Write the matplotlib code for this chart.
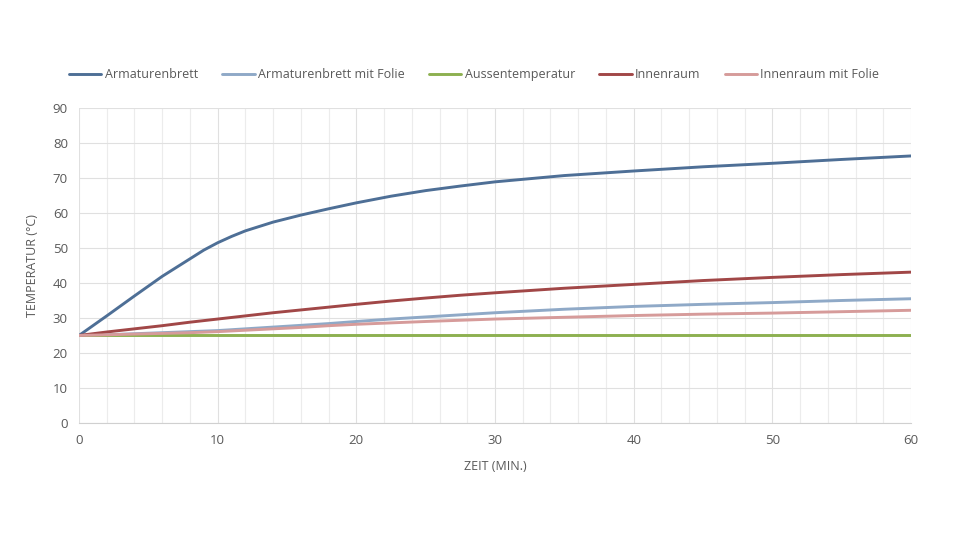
import matplotlib.pyplot as plt
from matplotlib.ticker import MultipleLocator

plt.rcParams['font.family'] = ['Open Sans', 'DejaVu Sans']

zeit = [0, 2, 4, 6, 8, 9, 10, 11, 12, 14, 16, 18, 20, 22.5, 25, 27.5, 30, 35, 40, 45, 50, 55, 60]
armaturenbrett = [25, 30.6, 36.3, 41.9, 46.9, 49.4, 51.5, 53.3, 54.9, 57.4, 59.4, 61.2, 62.9, 64.8, 66.4, 67.7, 68.9, 70.7, 72, 73.2, 74.2, 75.3, 76.3]
armaturenbrett_folie = [25, 25.2, 25.5, 25.8, 26.1, 26.25, 26.4, 26.65, 26.9, 27.4, 27.9, 28.4, 29, 29.7, 30.3, 30.9, 31.5, 32.5, 33.3, 33.9, 34.4, 35, 35.5]
aussen = [25] * len(zeit)
innenraum = [25, 26, 26.9, 27.8, 28.8, 29.25, 29.7, 30.15, 30.6, 31.5, 32.3, 33.1, 33.9, 34.85, 35.7, 36.5, 37.2, 38.5, 39.6, 40.7, 41.6, 42.4, 43.1]
innenraum_folie = [25, 25.2, 25.4, 25.6, 25.8, 25.95, 26.1, 26.3, 26.5, 26.9, 27.3, 27.8, 28.2, 28.6, 29, 29.35, 29.7, 30.2, 30.7, 31.1, 31.4, 31.8, 32.2]

serien = [
    ("Armaturenbrett", armaturenbrett, "#4e6f96"),
    ("Armaturenbrett mit Folie", armaturenbrett_folie, "#8fa9c7"),
    ("Aussentemperatur", aussen, "#8db050"),
    ("Innenraum", innenraum, "#a14747"),
    ("Innenraum mit Folie", innenraum_folie, "#d69b9a"),
]

fig = plt.figure(figsize=(9.6, 5.4), dpi=100)
ax = fig.add_axes([0.0823, 0.2167, 0.8667, 0.5833])

for name, werte, farbe in serien:
    ax.plot(zeit, werte, color=farbe, lw=2.1, label=name, solid_capstyle='round', solid_joinstyle='round')

ax.set_xlim(0, 60)
ax.set_ylim(0, 90)
ax.xaxis.set_major_locator(MultipleLocator(10))
ax.xaxis.set_minor_locator(MultipleLocator(2))
ax.yaxis.set_major_locator(MultipleLocator(10))
ax.grid(which='major', color='#e0e0e0', lw=0.8)
ax.grid(which='minor', axis='x', color='#ececec', lw=0.8)
ax.set_axisbelow(True)
for s in ['top', 'right', 'left']:
    ax.spines[s].set_visible(False)
ax.spines['bottom'].set_color('#d0d0d0')
ax.tick_params(which='both', length=0, labelsize=9.5, colors='#595959', pad=8)

ax.set_xlabel("ZEIT (MIN.)", fontsize=9, color='#595959', labelpad=9)
ax.set_ylabel("TEMPERATUR (°C)", fontsize=9, color='#595959', labelpad=10)

fig.legend(loc='center', bbox_to_anchor=(0.494, 0.862), ncol=5, frameon=False,
           fontsize=9, labelcolor='#595959', handlelength=2.6, columnspacing=1.95, handletextpad=0.25)

fig.savefig("out.png", dpi=100, facecolor='white')
